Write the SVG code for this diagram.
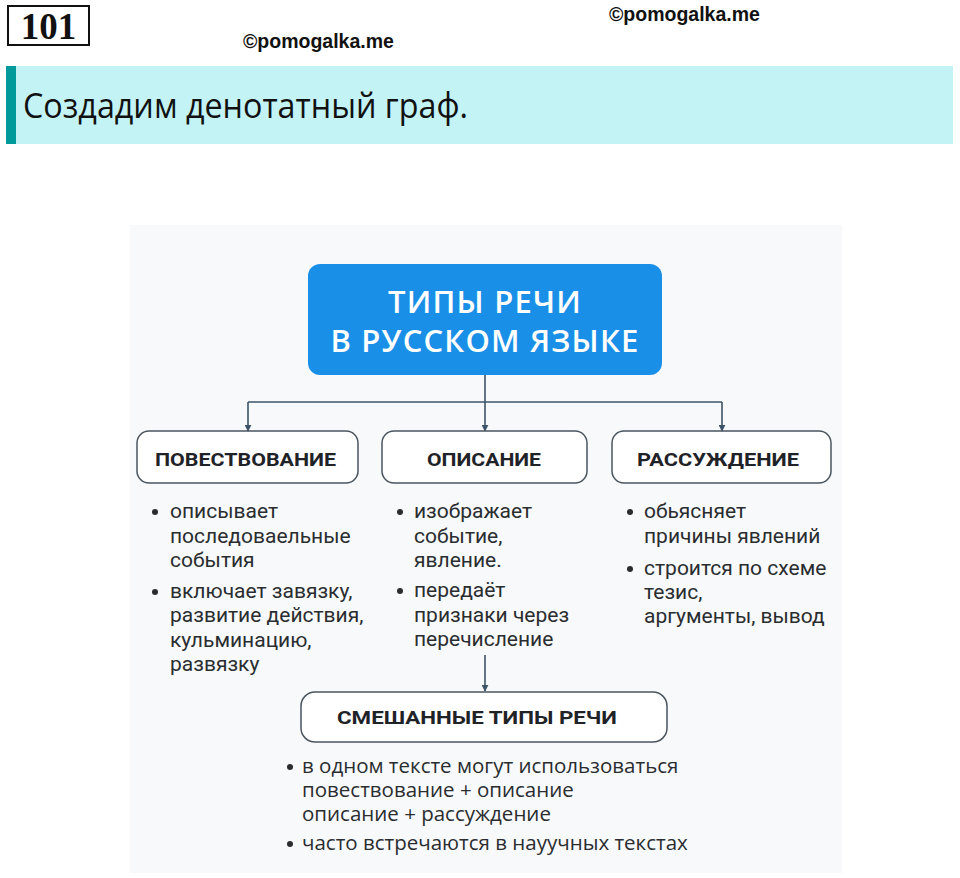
<svg xmlns="http://www.w3.org/2000/svg" width="960" height="878" viewBox="0 0 960 878">
<style>
.wm{font-family:"Liberation Sans",Arial,sans-serif;font-weight:bold;font-size:19.5px;fill:#111}
.node{fill:#fff;stroke:#4a5560;stroke-width:1.5}
.lbl{font-family:"Roboto","Noto Sans",sans-serif;font-weight:bold;font-size:19px;fill:#1f2328;text-anchor:middle}
.bt{font-family:"Roboto","Noto Sans",sans-serif;font-size:21px;fill:#2a2d30}
.bt2{font-family:"Open Sans","Noto Sans",sans-serif;font-size:20.5px;fill:#2a2d30}
.dot{fill:#2a2d30}
.conn{fill:none;stroke:#3d5468;stroke-width:1.6}
</style>
<defs>
<marker id="ah" viewBox="0 0 10 10" refX="9" refY="5" markerWidth="7" markerHeight="7" orient="auto" markerUnits="userSpaceOnUse">
<path d="M0,0 L10,5 L0,10 z" fill="#3d5468"/>
</marker>
</defs>
<rect width="960" height="878" fill="#fff"/>
<g id="header">
<rect x="8" y="6" width="81" height="39" fill="#fff" stroke="#111" stroke-width="2"/>
<text x="48.5" y="39" text-anchor="middle" font-family="Liberation Serif,serif" font-weight="bold" font-size="37" fill="#111">101</text>
<text class="wm" x="243" y="48">©pomogalka.me</text>
<text class="wm" x="609" y="21">©pomogalka.me</text>
<rect x="6" y="66" width="947" height="78" fill="#c4f3f6"/>
<rect x="6" y="66" width="10" height="78" fill="#009a9a"/>
<text x="23" y="118" font-family="Open Sans,Noto Sans,sans-serif" font-size="34" fill="#111" textLength="445" lengthAdjust="spacingAndGlyphs">Создадим денотатный граф.</text>
</g>
<rect x="130" y="225" width="712" height="648" fill="#f8f9fa"/>
<g id="connectors">
<path class="conn" d="M485,375 V402"/>
<path class="conn" d="M248,402 H722"/>
<path class="conn" d="M248,402 V431" marker-end="url(#ah)"/>
<path class="conn" d="M485,402 V431" marker-end="url(#ah)"/>
<path class="conn" d="M722,402 V431" marker-end="url(#ah)"/>
<path class="conn" d="M485,655 V691" marker-end="url(#ah)"/>
</g>
<g id="root">
<rect x="308" y="264" width="354" height="111" rx="12" fill="#1a8fe8"/>
<text x="485" y="313" text-anchor="middle" font-family="Open Sans,Noto Sans,sans-serif" font-weight="600" font-size="31" letter-spacing="1.2" fill="#fff">ТИПЫ РЕЧИ</text>
<text x="485" y="352" text-anchor="middle" font-family="Open Sans,Noto Sans,sans-serif" font-weight="600" font-size="31" letter-spacing="1.2" fill="#fff">В РУССКОМ ЯЗЫКЕ</text>
</g>
<g id="narration">
<rect class="node" x="137" y="431" width="221" height="52" rx="12"/>
<text class="lbl" x="245.5" y="466" textLength="181" lengthAdjust="spacingAndGlyphs">ПОВЕСТВОВАНИЕ</text>
<circle class="dot" cx="155" cy="512" r="3"/>
<circle class="dot" cx="155" cy="592" r="3"/>
<text class="bt" x="170" y="518">описывает</text>
<text class="bt" x="170" y="543">последоваельные</text>
<text class="bt" x="170" y="567">события</text>
<text class="bt" x="170" y="598">включает завязку,</text>
<text class="bt" x="170" y="622">развитие действия,</text>
<text class="bt" x="170" y="647">кульминацию,</text>
<text class="bt" x="170" y="671">развязку</text>
</g>
<g id="description">
<rect class="node" x="382" y="431" width="205" height="52" rx="12"/>
<text class="lbl" x="484" y="466" textLength="114" lengthAdjust="spacingAndGlyphs">ОПИСАНИЕ</text>
<circle class="dot" cx="400" cy="512" r="3"/>
<circle class="dot" cx="400" cy="591" r="3"/>
<text class="bt" x="414" y="518">изображает</text>
<text class="bt" x="414" y="543">событие,</text>
<text class="bt" x="414" y="567">явление.</text>
<text class="bt" x="414" y="597">передаёт</text>
<text class="bt" x="414" y="622">признаки через</text>
<text class="bt" x="414" y="646">перечисление</text>
</g>
<g id="reasoning">
<rect class="node" x="612" y="431" width="219" height="52" rx="12"/>
<text class="lbl" x="718" y="466" textLength="162" lengthAdjust="spacingAndGlyphs">РАССУЖДЕНИЕ</text>
<circle class="dot" cx="630" cy="512" r="3"/>
<circle class="dot" cx="630" cy="569" r="3"/>
<text class="bt" x="644" y="518">обьясняет</text>
<text class="bt" x="644" y="543">причины явлений</text>
<text class="bt" x="644" y="575">строится по схеме</text>
<text class="bt" x="644" y="599">тезис,</text>
<text class="bt" x="644" y="623">аргументы, вывод</text>
</g>
<g id="mixed">
<rect class="node" x="301" y="692" width="366" height="50" rx="14"/>
<text class="lbl" x="477" y="724" textLength="280" lengthAdjust="spacingAndGlyphs">СМЕШАННЫЕ ТИПЫ РЕЧИ</text>
<circle class="dot" cx="290" cy="767" r="3"/>
<circle class="dot" cx="290" cy="844" r="3"/>
<text class="bt2" x="302" y="773">в одном тексте могут использоваться</text>
<text class="bt2" x="302" y="797">повествование + описание</text>
<text class="bt2" x="302" y="821">описание + рассуждение</text>
<text class="bt2" x="302" y="850">часто встречаются в науучных текстах</text>
</g>
</svg>
